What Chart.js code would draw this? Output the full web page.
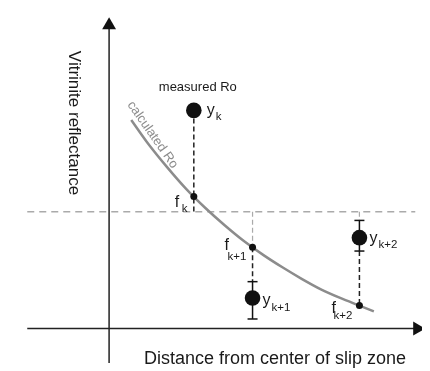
<!DOCTYPE html>
<html lang="en">
<head>
    <meta charset="UTF-8">
    <title>Vitrinite reflectance fit</title>
    <script src="https://cdn.jsdelivr.net/npm/chart.js"></script>
    <style>
        body { margin: 0; background: #fff; }
        canvas { display: block; }
    </style>
</head>
<body>
    <canvas id="roChart" width="430" height="371"></canvas>

    <script>
        // sample positions k, k+1, k+2 (distance from slip zone centre)
        const sampleX = [8.8, 14.9, 26.0];
        const subLabels = ["k", "k+1", "k+2"];
        const measuredRo = [22.8, 3.2, 9.5];
        const errLow = [null, 1.0, 8.1];
        const errHigh = [null, 4.9, 11.3];
        const calculatedRo = [13.8, 8.5, 2.4];

        // calculated Ro curve
        const curveX = [2.3, 4, 6, 8, 10, 12, 14, 16, 18, 20, 22, 24, 26, 27.5];
        const curveY = [21.8, 19.4, 16.9, 14.6, 12.6, 10.8, 9.15, 7.7, 6.4, 5.2, 4.1, 3.2, 2.4, 1.8];

        const refLevel = 12.2;
        const xRange = [-10.5, 32.5];
        const yRange = [-3.6, 33.5];
        const xAxisLine = [-8.5, 32.0];
        const yAxisLine = [-3.6, 31.7];
        const refLine = [-8.5, 31.8];

        const FONT = "'Liberation Sans', Arial, sans-serif";

        function seg(x1, y1, x2, y2, color, width, dash) {
            return {
                type: "line",
                data: [{x: x1, y: y1}, {x: x2, y: y2}],
                borderColor: color,
                borderWidth: width,
                borderDash: dash || [],
                pointRadius: 0,
                fill: false
            };
        }

        const datasets = [];

        // big measured dots
        datasets.push({
            type: "scatter",
            data: sampleX.map((x, i) => ({x: x, y: measuredRo[i]})),
            pointRadius: 7.8,
            pointBackgroundColor: "#111",
            pointBorderWidth: 0
        });
        // small calculated dots
        datasets.push({
            type: "scatter",
            data: sampleX.map((x, i) => ({x: x, y: calculatedRo[i]})),
            pointRadius: 3.5,
            pointBackgroundColor: "#111",
            pointBorderWidth: 0
        });
        // error bars
        sampleX.forEach((x, i) => {
            if (errLow[i] === null) return;
            datasets.push({
                type: "line",
                data: [{x: x, y: errLow[i]}, {x: x, y: errHigh[i]}],
                borderColor: "#111",
                borderWidth: 1.5,
                pointStyle: "line",
                pointRadius: 5,
                pointBorderColor: "#111",
                pointBorderWidth: 1.5
            });
        });
        // arrows
        datasets.push({
            type: "scatter",
            data: [{x: 0, y: yAxisLine[1]}, {x: xAxisLine[1], y: 0}],
            pointStyle: "triangle",
            rotation: [0, 90],
            pointRadius: 8,
            pointBackgroundColor: "#111",
            pointBorderWidth: 0
        });
        // connectors between measured and calculated values
        sampleX.forEach((x, i) => {
            const top = errHigh[i] === null ? measuredRo[i] : errHigh[i];
            const bot = errLow[i] === null ? measuredRo[i] : errLow[i];
            if (measuredRo[i] > calculatedRo[i]) {
                if (bot > refLevel && calculatedRo[i] > refLevel) {
                    datasets.push(seg(x, measuredRo[i], x, refLevel, "#222", 1.5, [5, 3]));
                } else {
                    if (top < refLevel) datasets.push(seg(x, refLevel, x, top, "#aaa", 1.2, [5, 3]));
                    datasets.push(seg(x, bot, x, calculatedRo[i], "#222", 1.5, [5, 3]));
                }
            } else {
                datasets.push(seg(x, refLevel, x, calculatedRo[i], "#aaa", 1.2, [5, 3]));
                datasets.push(seg(x, calculatedRo[i], x, top, "#222", 1.5, [5, 3]));
            }
        });
        // calculated Ro curve
        datasets.push({
            type: "line",
            data: curveX.map((x, i) => ({x: x, y: curveY[i]})),
            borderColor: "#8c8c8c",
            borderWidth: 2.5,
            cubicInterpolationMode: "monotone",
            pointRadius: 0,
            fill: false
        });
        // reference level
        datasets.push(seg(refLine[0], refLevel, refLine[1], refLevel, "#aaa", 1.5, [7, 5]));
        // axes
        datasets.push(seg(xAxisLine[0], 0, xAxisLine[1], 0, "#222", 1.5));
        datasets.push(seg(0, yAxisLine[0], 0, yAxisLine[1], "#222", 1.5));

        // label offsets in pixels: [mainDx, mainDy, subDx, subDy]
        const yLabelOff = [[13, 5, 22, 10], [10, 7, 19, 13], [10, 5, 19, 10]];
        const fLabelOff = [[-19, 10, -12, 15], [-28, 3, -25, 13], [-28, 7, -26, 13]];

        const textPlugin = {
            id: "texts",
            afterDatasetsDraw(chart) {
                const ctx = chart.ctx;
                const xs = chart.scales.x, ys = chart.scales.y;
                ctx.save();
                ctx.fillStyle = "#1a1a1a";
                ctx.textBaseline = "alphabetic";

                sampleX.forEach((x, i) => {
                    const px = xs.getPixelForValue(x);
                    const pyM = ys.getPixelForValue(measuredRo[i]);
                    const pyC = ys.getPixelForValue(calculatedRo[i]);
                    let o = yLabelOff[i];
                    ctx.textAlign = "left";
                    ctx.font = "16px " + FONT;
                    ctx.fillText("y", px + o[0], pyM + o[1]);
                    ctx.font = "11.5px " + FONT;
                    ctx.fillText(subLabels[i], px + o[2], pyM + o[3]);
                    o = fLabelOff[i];
                    ctx.font = "16px " + FONT;
                    ctx.fillText("f", px + o[0], pyC + o[1]);
                    ctx.font = "11.5px " + FONT;
                    ctx.fillText(subLabels[i], px + o[2], pyC + o[3]);
                });

                // measured Ro
                ctx.textAlign = "center";
                ctx.font = "13px " + FONT;
                ctx.fillText("measured Ro", xs.getPixelForValue(sampleX[0]) + 4, ys.getPixelForValue(measuredRo[0]) - 19);

                // calculated Ro along the curve
                ctx.save();
                ctx.translate(xs.getPixelForValue(curveX[1]) + 5, ys.getPixelForValue(curveY[1]) - 8);
                ctx.rotate(55 * Math.PI / 180);
                ctx.fillStyle = "#8c8c8c";
                ctx.textBaseline = "middle";
                ctx.font = "13px " + FONT;
                ctx.fillText("calculated Ro", 0, 0);
                ctx.restore();

                // axis titles
                ctx.font = "18px " + FONT;
                ctx.textAlign = "center";
                ctx.fillText("Distance from center of slip zone", 275, 364);
                ctx.save();
                ctx.translate(74, 123);
                ctx.rotate(Math.PI / 2);
                ctx.textBaseline = "middle";
                ctx.font = "17px " + FONT;
                ctx.fillText("Vitrinite reflectance", 0, 0);
                ctx.restore();

                ctx.restore();
            }
        };

        new Chart(document.getElementById("roChart"), {
            type: "scatter",
            data: { datasets: datasets },
            options: {
                responsive: false,
                animation: false,
                layout: { padding: 0 },
                plugins: { legend: { display: false }, tooltip: { enabled: false } },
                scales: {
                    x: { type: "linear", min: xRange[0], max: xRange[1], display: false },
                    y: { type: "linear", min: yRange[0], max: yRange[1], display: false }
                }
            },
            plugins: [textPlugin]
        });
    </script>
</body>
</html>
